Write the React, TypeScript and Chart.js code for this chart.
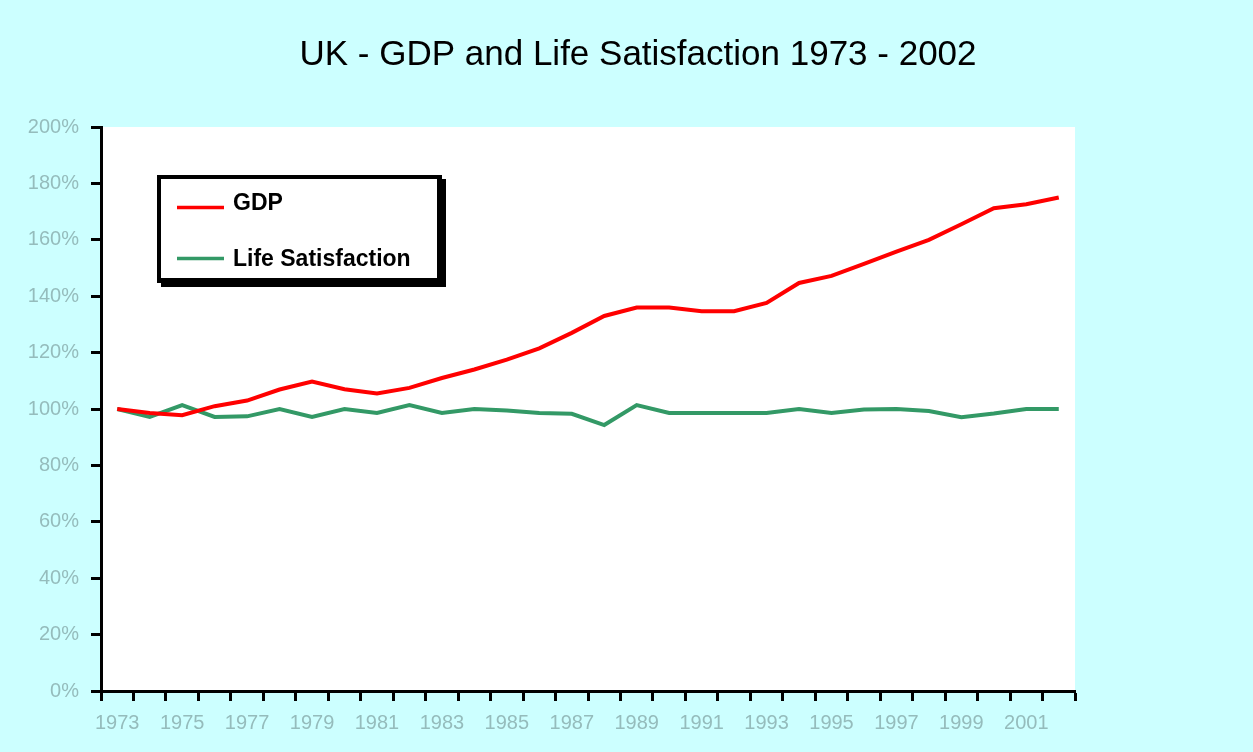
import React, { useEffect, useRef } from "react";
import { Chart, registerables } from "chart.js";

Chart.register(...registerables);

const TITLE = "UK - GDP and Life Satisfaction 1973 - 2002";

const YEARS = [
  "1973", "1974", "1975", "1976", "1977", "1978", "1979", "1980", "1981", "1982",
  "1983", "1984", "1985", "1986", "1987", "1988", "1989", "1990", "1991", "1992",
  "1993", "1994", "1995", "1996", "1997", "1998", "1999", "2000", "2001", "2002",
];

const GDP = [
  100, 98.6, 97.8, 101, 103, 106.9, 109.7, 107, 105.5, 107.5,
  111, 114, 117.5, 121.5, 127, 133, 136, 136, 134.7, 134.7,
  137.6, 144.7, 147.2, 151.5, 155.8, 160, 165.5, 171.2, 172.6, 175,
];

const LIFE_SATISFACTION = [
  100, 97.2, 101.4, 97.2, 97.4, 100, 97.2, 100, 98.6, 101.4,
  98.6, 100, 99.5, 98.6, 98.3, 94.3, 101.4, 98.6, 98.6, 98.6,
  98.6, 100, 98.6, 99.8, 100, 99.3, 97.1, 98.4, 100, 100,
];

const SERIES_LABELS = ["GDP", "Life Satisfaction"];
const SERIES_COLORS = ["#FF0000", "#339966"];

const Y_MIN = 0;
const Y_MAX = 200;
const Y_STEP = 20;

const FONT = "'Liberation Sans', Arial, sans-serif";
const TICK_COLOR = "#95bcbc";

const backgroundPlugin = {
  id: "bgFill",
  beforeDraw(chart: any) {
    const { ctx, chartArea } = chart;
    ctx.save();
    ctx.fillStyle = "#CCFFFF";
    ctx.fillRect(0, 0, chart.width, chart.height);
    ctx.fillStyle = "#FFFFFF";
    ctx.fillRect(
      chartArea.left,
      chartArea.top,
      chartArea.right - chartArea.left,
      chartArea.bottom - chartArea.top
    );
    ctx.restore();
  },
};

const titlePlugin = {
  id: "customTitle",
  afterDraw(chart: any) {
    const { ctx } = chart;
    ctx.save();
    ctx.fillStyle = "#000000";
    ctx.font = `35px ${FONT}`;
    ctx.textAlign = "center";
    ctx.textBaseline = "alphabetic";
    ctx.fillText(TITLE, 638, 65);
    ctx.restore();
  },
};

const legendPlugin = {
  id: "boxLegend",
  afterDatasetsDraw(chart: any) {
    const { ctx } = chart;
    const x0 = 157, y0 = 175, w = 289, h = 112;
    ctx.save();
    ctx.fillStyle = "#000000";
    ctx.fillRect(x0, y0, w, h);
    ctx.fillStyle = "#FFFFFF";
    ctx.fillRect(x0 + w - 4, y0, 4, 4);
    ctx.fillRect(x0, y0 + h - 4, 4, 4);
    ctx.fillRect(x0 + 4, y0 + 4, w - 13, h - 13);
    const rows = [207.5, 258.5];
    chart.data.datasets.forEach((ds: any, i: number) => {
      const y = rows[i];
      ctx.strokeStyle = ds.borderColor;
      ctx.lineWidth = 3.5;
      ctx.beginPath();
      ctx.moveTo(177, y);
      ctx.lineTo(224, y);
      ctx.stroke();
      ctx.fillStyle = "#000000";
      ctx.font = `bold 23px ${FONT}`;
      ctx.textAlign = "left";
      ctx.textBaseline = "alphabetic";
      ctx.fillText(ds.label, 233, y + 2 + (i === 0 ? 0 : 5));
    });
    ctx.restore();
  },
};

export default function App() {
  const canvasRef = useRef<HTMLCanvasElement | null>(null);

  useEffect(() => {
    if (!canvasRef.current) return;
    const chart = new Chart(canvasRef.current, {
      type: "line",
      data: {
        labels: YEARS,
        datasets: [
          {
            label: SERIES_LABELS[0],
            data: GDP,
            borderColor: SERIES_COLORS[0],
            backgroundColor: SERIES_COLORS[0],
            borderWidth: 4,
            pointRadius: 0,
            tension: 0,
            fill: false,
          },
          {
            label: SERIES_LABELS[1],
            data: LIFE_SATISFACTION,
            borderColor: SERIES_COLORS[1],
            backgroundColor: SERIES_COLORS[1],
            borderWidth: 4,
            pointRadius: 0,
            tension: 0,
            fill: false,
          },
        ],
      },
      options: {
        responsive: false,
        animation: false,
        layout: { padding: { top: 127, right: 178, left: 0, bottom: 0 } },
        plugins: {
          legend: { display: false },
          title: { display: false },
          tooltip: { enabled: false },
        },
        scales: {
          x: {
            type: "category",
            offset: true,
            grid: {
              offset: true,
              drawOnChartArea: false,
              drawTicks: true,
              tickLength: 10,
              tickWidth: 3,
              tickColor: "#000000",
            },
            border: { display: true, color: "#000000", width: 3 },
            ticks: {
              autoSkip: false,
              maxRotation: 0,
              minRotation: 0,
              padding: 10,
              color: TICK_COLOR,
              font: { size: 20, family: FONT },
              callback: (_v: any, i: number) => (i % 2 === 0 ? YEARS[i] : ""),
            },
            afterFit: (s: any) => {
              s.height = 61;
            },
          },
          y: {
            min: Y_MIN,
            max: Y_MAX,
            ticks: {
              stepSize: Y_STEP,
              padding: 12,
              color: TICK_COLOR,
              font: { size: 20, family: FONT },
              callback: (v: any) => `${v}%`,
            },
            grid: {
              drawOnChartArea: false,
              drawTicks: true,
              tickLength: 10,
              tickWidth: 3,
              tickColor: "#000000",
            },
            border: { display: true, color: "#000000", width: 3 },
            afterFit: (s: any) => {
              s.width = 101;
            },
          },
        },
      },
      plugins: [backgroundPlugin, titlePlugin, legendPlugin],
    });
    return () => chart.destroy();
  }, []);

  return (
    <div style={{ position: "absolute", left: 0, top: 0, width: 1253, height: 752 }}>
      <canvas ref={canvasRef} width={1253} height={752} />
    </div>
  );
}
